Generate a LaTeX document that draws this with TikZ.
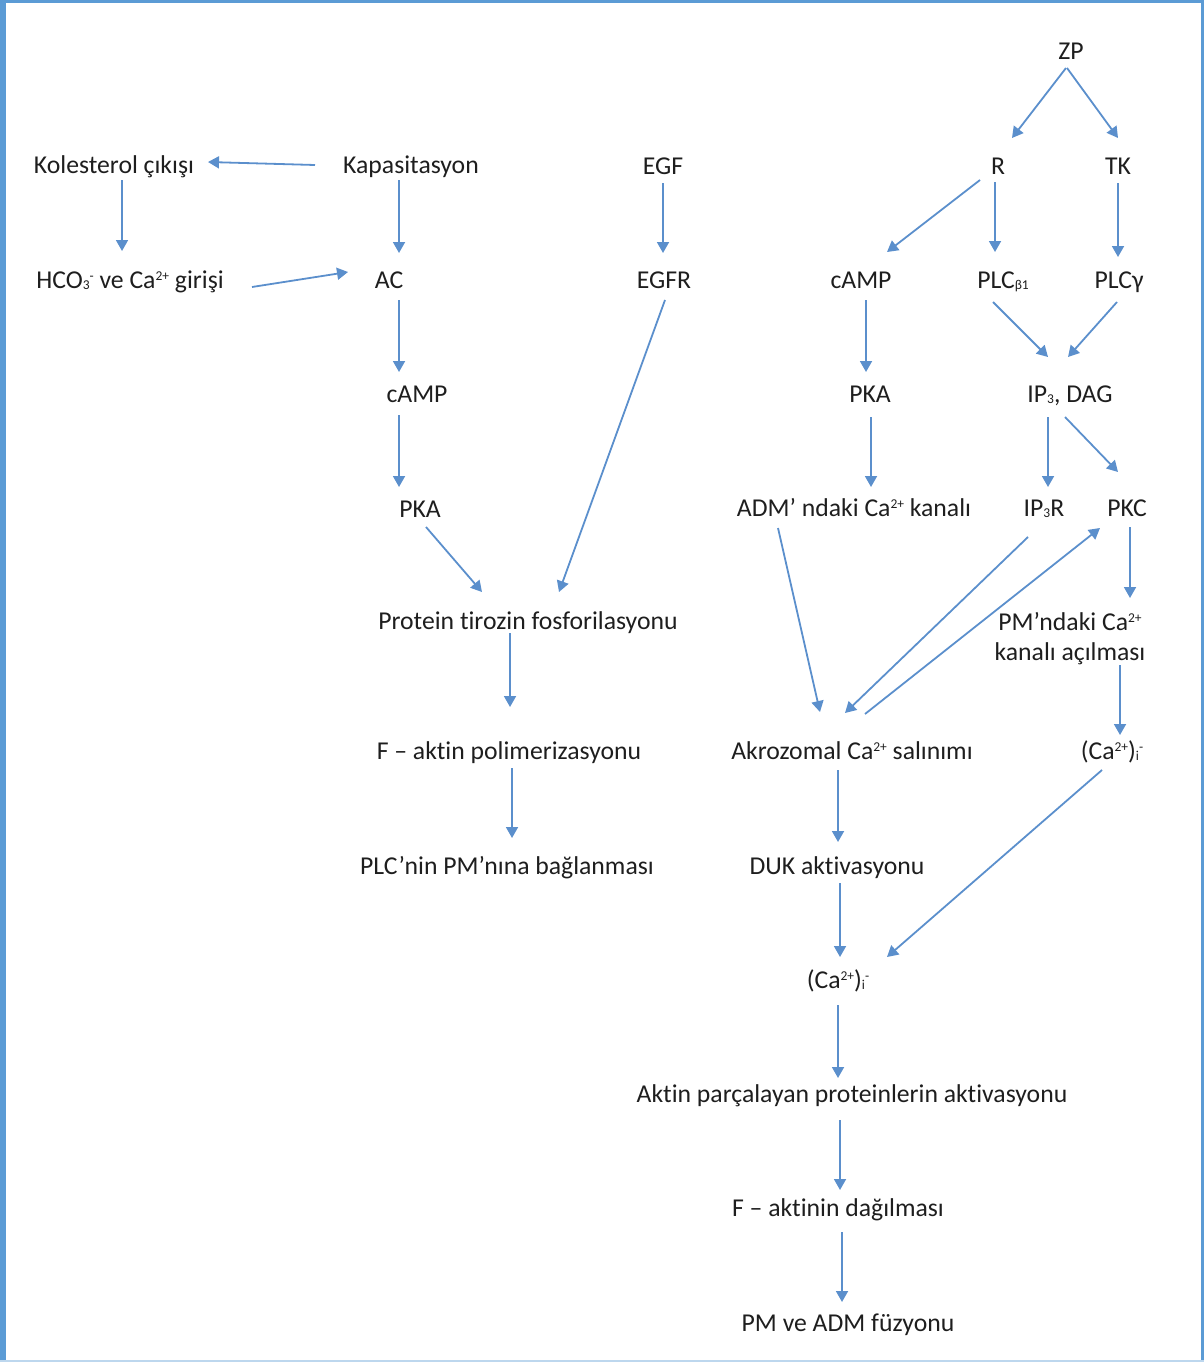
\documentclass[tikz,border=0pt]{standalone}
\usepackage{fontspec}
\setmainfont{Carlito}[Ligatures=NoCommon]
\usetikzlibrary{arrows.meta,calc}
\definecolor{framebl}{RGB}{91,155,213}
\definecolor{arrbl}{RGB}{91,143,204}
\definecolor{txt}{RGB}{30,30,30}
\tikzset{
  lbl/.style={inner sep=0pt, text height=16.5pt, text depth=0pt, text=txt,
    font=\fontsize{25.7}{30}\selectfont},
  arr/.style={draw=arrbl, line width=1.8pt, -{Triangle[length=11pt,width=12pt]}}
}
\newcommand{\sps}[1]{\raisebox{8pt}{\fontsize{13.5}{14}\selectfont #1}}
\newcommand{\sbs}[1]{\raisebox{-1.5pt}{\fontsize{13.5}{14}\selectfont #1}}
\begin{document}
\begin{tikzpicture}[x=1pt,y=-1pt]
\useasboundingbox (0,0) rectangle (1204,1362);
% frame
\fill[framebl] (0,0) rectangle (6,1362);
\fill[framebl] (0,0) rectangle (1204,3);
\fill[framebl] (1201,0) rectangle (1204,1362);
\fill[framebl!40] (0,1360) rectangle (1204,1362);

% nodes
\node[lbl] (zp) at (1071,51) {ZP};
\node[lbl] (kol) at (114,165) {Kolesterol çıkışı};
\node[lbl] (kap) at (411,165) {Kapasitasyon};
\node[lbl] (egf) at (663,166) {EGF};
\node[lbl] (r) at (998,166) {R};
\node[lbl] (tk) at (1118,166) {TK};
\node[lbl] (hco) at (130,280) {HCO\sbs{3}\sps{-} ve Ca\sps{2+} girişi};
\node[lbl] (ac) at (389,280) {AC};
\node[lbl] (egfr) at (664,280) {EGFR};
\node[lbl] (camp2) at (861,280) {cAMP};
\node[lbl] (plcb) at (1003,280) {PLC\sbs{β1}};
\node[lbl] (plcg) at (1119,280) {PLCγ};
\node[lbl] (camp1) at (417,394) {cAMP};
\node[lbl] (pka2) at (870,394) {PKA};
\node[lbl] (ipdag) at (1070,394) {IP\sbs{3}, DAG};
\node[lbl] (pka1) at (420,509) {PKA};
\node[lbl] (adm) at (854,508) {ADM’ ndaki Ca\sps{2+} kanalı};
\node[lbl] (ip3r) at (1044,508) {IP\sbs{3}R};
\node[lbl] (pkc) at (1127,508) {PKC};
\node[lbl] (prot) at (528,621) {Protein tirozin fosforilasyonu};
\node[inner sep=0pt, text=txt, font=\fontsize{25.7}{30}\selectfont, align=center, anchor=north]
  (pmca) at (1070,612) {PM’ndaki Ca\sps{2+}\\kanalı açılması};
\node[lbl] (fakt) at (509,751) {F – aktin polimerizasyonu};
\node[lbl] (akro) at (852,751) {Akrozomal Ca\sps{2+} salınımı};
\node[lbl] (cai1) at (1112,751) {(Ca\sps{2+})\sbs{i}\sps{-}};
\node[lbl] (plcpm) at (507,866) {PLC’nin PM’nına bağlanması};
\node[lbl] (duk) at (837,866) {DUK aktivasyonu};
\node[lbl] (cai2) at (838,980) {(Ca\sps{2+})\sbs{i}\sps{-}};
\node[lbl] (aktin) at (852,1094) {Aktin parçalayan proteinlerin aktivasyonu};
\node[lbl] (fdag) at (838,1208) {F – aktinin dağılması};
\node[lbl] (pmadm) at (848,1323) {PM ve ADM füzyonu};

% connectors
\draw[arr] ($(kap)+(-96,0)$) -- ($(kol)+(94,-3)$);
\draw[arr] ($(kol)+(8,15)$) -- ($(hco)+(-8,-29)$);
\draw[arr] ($(kap)+(-12,15)$) -- ($(ac)+(10,-27)$);
\draw[arr] ($(hco)+(122,7)$) -- ($(ac)+(-41,-8)$);
\draw[arr] ($(egf)+(0,17)$) -- ($(egfr)+(-1,-27)$);
\draw[arr] ($(ac)+(10,20)$) -- ($(camp1)+(-18,-22)$);
\draw[arr] ($(camp1)+(-18,21)$) -- ($(pka1)+(-21,-22)$);
\draw[arr] ($(pka1)+(6,18)$) -- ($(prot)+(-46,-29)$);
\draw[arr] ($(egfr)+(1,20)$) -- ($(prot)+(31,-29)$);
\draw[arr] ($(prot)+(-18,12)$) -- ($(fakt)+(1,-44)$);
\draw[arr] ($(fakt)+(3,17)$) -- ($(plcpm)+(5,-28)$);
\draw[arr] ($(zp)+(-5,17)$) -- ($(r)+(14,-28)$);
\draw[arr] ($(zp)+(-4,17)$) -- ($(tk)+(0,-28)$);
\draw[arr] ($(r)+(-18,14)$) -- ($(camp2)+(26,-28)$);
\draw[arr] ($(r)+(-3,16)$) -- ($(plcb)+(-8,-28)$);
\draw[arr] ($(tk)+(0,17)$) -- ($(plcg)+(-1,-23)$);
\draw[arr] ($(plcb)+(-10,22)$) -- ($(ipdag)+(-22,-37)$);
\draw[arr] ($(plcg)+(-2,22)$) -- ($(ipdag)+(-2,-37)$);
\draw[arr] ($(camp2)+(5,20)$) -- ($(pka2)+(-4,-22)$);
\draw[arr] ($(pka2)+(1,23)$) -- ($(adm)+(17,-21)$);
\draw[arr] ($(ipdag)+(-22,23)$) -- ($(ip3r)+(4,-21)$);
\draw[arr] ($(ipdag)+(-5,23)$) -- ($(pkc)+(-9,-36)$);
\draw[arr] ($(pkc)+(3,19)$) -- ($(pmca.north)+(60,-14)$);
\draw[arr] ($(adm)+(-76,20)$) -- ($(akro)+(-32,-39)$);
\draw[arr] ($(ip3r)+(-16,29)$) -- ($(akro)+(-7,-38)$);
\draw[arr] ($(akro)+(13,-37)$) -- ($(pkc)+(-27,20)$);
\draw[arr] ($(pmca.north)+(50,53)$) -- ($(cai1)+(8,-16)$);
\draw[arr] ($(cai1)+(-10,19)$) -- ($(cai2)+(49,-23)$);
\draw[arr] ($(akro)+(-14,19)$) -- ($(duk)+(1,-24)$);
\draw[arr] ($(duk)+(3,17)$) -- ($(cai2)+(2,-23)$);
\draw[arr] ($(cai2)+(0,25)$) -- ($(aktin)+(-14,-16)$);
\draw[arr] ($(aktin)+(-12,26)$) -- ($(fdag)+(2,-18)$);
\draw[arr] ($(fdag)+(4,24)$) -- ($(pmadm)+(-6,-21)$);
\end{tikzpicture}
\end{document}
